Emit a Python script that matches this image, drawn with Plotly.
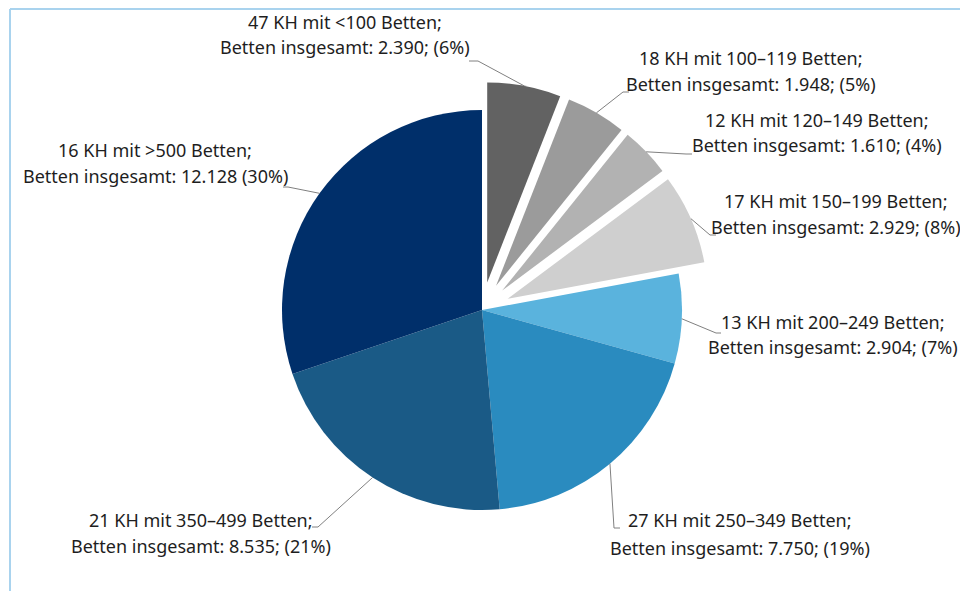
import math
import plotly.graph_objects as go

# ---------------- data ----------------
categories = ["<100", "100–119", "120–149", "150–199", "200–249", "250–349", "350–499", ">500"]
hospitals = [47, 18, 12, 17, 13, 27, 21, 16]
beds = [2390, 1948, 1610, 2929, 2904, 7750, 8535, 12128]
bed_labels = ["2.390", "1.948", "1.610", "2.929", "2.904", "7.750", "8.535", "12.128"]
pct_labels = ["6%", "5%", "4%", "8%", "7%", "19%", "21%", "30%"]
pulled = [True, True, True, True, False, False, False, False]

colors = ["#626262", "#9b9b9b", "#b2b2b2", "#cfcfcf",
          "#5ab3dd", "#2a8bbf", "#1a5a86", "#002f6a"]

# ---------------- layout params (page pixels) ----------------
OFF = 8                      # default page body margin
W, H = 952, 583              # figure size so the page fits the window
CX, CY, R = 482, 310, 200
PULL = 0.14
FONT = "Noto Sans"
FS = 18

def px(x):
    return (x - OFF) / W

def py(y):
    return 1 - (y - OFF) / H

half = R * (1 + PULL)
dom_x = [px(CX - half), px(CX + half)]
dom_y = [py(CY + half), py(CY - half)]

fig = go.Figure(go.Pie(
    labels=categories,
    values=beds,
    sort=False,
    direction="clockwise",
    rotation=0,
    pull=[PULL if p else 0 for p in pulled],
    marker=dict(colors=colors, line=dict(color="white", width=0)),
    textinfo="none",
    hoverinfo="label+value+percent",
    showlegend=False,
    domain=dict(x=dom_x, y=dom_y),
))

# label texts (two lines each)
line1 = [f"{h} KH mit {c} Betten;" for h, c in zip(hospitals, categories)]
line2 = []
for i in range(len(categories)):
    if categories[i] == ">500":
        line2.append(f"Betten insgesamt: {bed_labels[i]} ({pct_labels[i]})")
    else:
        line2.append(f"Betten insgesamt: {bed_labels[i]}; ({pct_labels[i]})")

# label placement (page pixels): centre x, y of line 1, y of line 2, elbow, tick end
label_pos = [
    (345, 22, 47, (478, 61), (469, 61)),
    (751, 58, 84, (623, 92), (629, 92)),
    (817, 120, 145, (686, 154), (692, 154)),
    (836, 201, 227, (710, 235), (716, 235)),
    (833, 322, 347, (716, 333), (721, 333)),
    (740, 520, 548, (614, 528), (620, 528)),
    (201, 520, 546, (318, 527), (312, 527)),
    (155, 150, 176, (288, 187), (283, 187)),
]

total = sum(beds)
cum = 0
anchors = []
for v, p in zip(beds, pulled):
    a0 = cum / total * 2 * math.pi
    cum += v
    a1 = cum / total * 2 * math.pi
    mid = (a0 + a1) / 2
    rr = R * (1 + (PULL if p else 0))
    anchors.append((CX + rr * math.sin(mid), CY - rr * math.cos(mid)))

annotations = []
shapes = []
for i, (cx, y1, y2, elbow, tick) in enumerate(label_pos):
    for txt, yy in ((line1[i], y1), (line2[i], y2)):
        annotations.append(dict(
            x=px(cx), y=py(yy), xref="paper", yref="paper",
            text=txt, showarrow=False, xanchor="center", yanchor="middle",
            font=dict(family=FONT, size=FS, color="#1e1e1e"),
        ))
    ax, ay = anchors[i]
    path = (f"M {px(ax)} {py(ay)} L {px(elbow[0])} {py(elbow[1])} "
            f"L {px(tick[0])} {py(tick[1])}")
    shapes.append(dict(type="path", xref="paper", yref="paper", path=path,
                       line=dict(color="#808080", width=1)))

# light blue frame (top and left edges)
shapes.append(dict(type="line", xref="paper", yref="paper",
                   x0=px(10), y0=py(9), x1=1.0, y1=py(9),
                   line=dict(color="#a9d3ee", width=2)))
shapes.append(dict(type="line", xref="paper", yref="paper",
                   x0=px(10), y0=py(9), x1=px(10), y1=0.0,
                   line=dict(color="#a9d3ee", width=2)))

fig.update_layout(
    width=W, height=H,
    margin=dict(l=0, r=0, t=0, b=0),
    paper_bgcolor="white",
    plot_bgcolor="white",
    annotations=annotations,
    shapes=shapes,
)

fig.write_html("out.html")
